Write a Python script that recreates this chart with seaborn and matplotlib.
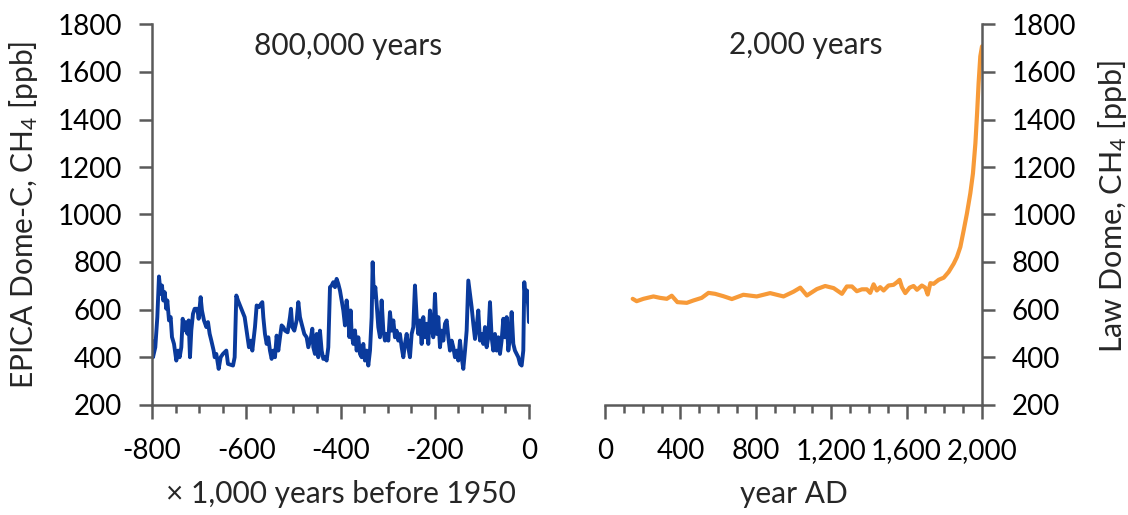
import matplotlib
matplotlib.use("Agg")
import matplotlib.pyplot as plt
from matplotlib.ticker import MultipleLocator, FuncFormatter
import seaborn as sns
import pandas as pd

# EPICA Dome C methane record (thousand years relative to 1950, ppb)
epica_kyr = [
    -799.5, -797.9, -793.0, -788.7, -785.2, -781.6, -778.8, -776.0, -773.1, -769.6,
    -767.5, -763.9, -760.4, -757.6, -753.3, -748.4, -744.8, -741.3, -737.8, -734.9,
    -732.1, -729.3, -725.0, -722.2, -719.4, -716.6, -713.0, -709.5, -703.8, -701.0,
    -696.8, -694.0, -689.7, -684.7, -681.2, -677.7, -674.1, -669.2, -667.0, -663.5,
    -658.5, -654.3, -649.4, -642.3, -638.8, -628.1, -624.6, -621.1, -617.5, -610.5,
    -603.4, -599.2, -594.2, -590.0, -587.1, -581.5, -577.9, -573.0, -568.7, -565.9,
    -563.8, -560.3, -556.7, -553.2, -549.7, -546.1, -542.6, -539.0, -535.5, -532.0,
    -528.4, -524.9, -521.4, -517.8, -512.2, -507.2, -505.1, -502.3, -498.0, -493.1,
    -489.5, -486.0, -482.5, -476.8, -471.9, -468.3, -462.7, -459.8, -457.7, -454.2,
    -450.6, -447.1, -443.6, -440.0, -436.5, -433.0, -429.4, -425.9, -422.3, -418.8,
    -415.3, -411.7, -408.2, -404.7, -401.1, -397.6, -394.0, -390.5, -387.0, -383.4,
    -381.3, -378.5, -376.3, -372.8, -369.3, -365.7, -362.2, -358.7, -355.1, -351.6,
    -348.1, -344.5, -341.0, -337.4, -333.9, -331.8, -329.0, -326.1, -323.3, -319.8,
    -316.2, -312.7, -309.1, -305.6, -302.1, -298.5, -295.0, -291.5, -287.9, -284.4,
    -280.9, -277.3, -273.8, -270.2, -266.7, -263.2, -259.6, -256.1, -252.6, -249.0,
    -245.5, -242.0, -238.4, -234.9, -231.3, -227.8, -224.3, -220.7, -217.2, -213.7,
    -210.1, -206.6, -203.1, -199.5, -196.0, -192.4, -188.9, -185.4, -181.8, -178.3,
    -174.7, -171.2, -167.7, -164.1, -160.6, -157.1, -153.5, -150.0, -146.5, -142.9,
    -139.4, -135.8, -132.3, -128.8, -125.2, -121.7, -118.2, -114.6, -111.1, -107.6,
    -104.0, -100.5, -97.0, -93.4, -89.9, -86.4, -82.8, -79.3, -75.7, -72.2,
    -68.7, -65.1, -61.6, -58.1, -54.5, -51.0, -47.4, -43.9, -40.4, -36.8,
    -33.3, -29.8, -26.2, -22.7, -19.1, -15.6, -12.1, -10.0, -7.1, -4.3,
    -1.5, -0.1,
]
epica_ch4 = [
    469, 399, 441, 568, 739, 666, 701, 638, 673, 603,
    638, 554, 568, 484, 455, 385, 427, 399, 441, 561,
    512, 547, 498, 554, 399, 512, 582, 603, 603, 561,
    652, 596, 554, 526, 547, 498, 469, 427, 399, 413,
    350, 399, 413, 427, 371, 364, 399, 659, 638, 603,
    568, 511, 441, 469, 427, 526, 617, 610, 624, 631,
    568, 497, 455, 483, 427, 392, 427, 399, 490, 427,
    483, 533, 526, 511, 504, 568, 603, 526, 511, 554,
    631, 568, 540, 497, 483, 441, 483, 519, 441, 413,
    497, 399, 511, 427, 392, 399, 385, 441, 694, 701,
    715, 694, 729, 708, 680, 638, 596, 533, 638, 568,
    484, 596, 497, 455, 512, 427, 483, 413, 399, 455,
    385, 427, 364, 427, 568, 799, 652, 694, 624, 526,
    483, 638, 511, 469, 497, 469, 589, 511, 554, 483,
    511, 469, 497, 441, 399, 455, 497, 441, 399, 497,
    526, 701, 568, 497, 554, 455, 568, 483, 540, 455,
    596, 526, 483, 666, 497, 568, 441, 511, 469, 540,
    554, 483, 427, 469, 441, 399, 427, 385, 469, 399,
    350, 427, 511, 722, 666, 610, 540, 476, 526, 596,
    469, 497, 455, 526, 441, 483, 631, 483, 427, 497,
    427, 483, 413, 469, 561, 483, 568, 427, 483, 589,
    455, 427, 413, 399, 371, 364, 427, 715, 638, 680,
    610, 547,
]

# Law Dome methane record (year AD, ppb)
law_year = [
    147, 168, 204, 257, 292, 328, 354, 384, 434, 469,
    513, 549, 584, 628, 673, 734, 805, 876, 947, 1000,
    1036, 1071, 1124, 1168, 1213, 1257, 1283, 1310, 1336, 1363,
    1389, 1407, 1425, 1442, 1460, 1478, 1504, 1531, 1549, 1563,
    1575, 1593, 1616, 1637, 1655, 1681, 1699, 1712, 1726, 1743,
    1770, 1797, 1823, 1850, 1867, 1885, 1903, 1920, 1938, 1952,
    1965, 1974, 1982, 1991, 2000,
]
law_ch4 = [
    645, 635, 645, 655, 649, 645, 658, 631, 628, 638,
    649, 670, 666, 656, 644, 662, 655, 669, 655, 675,
    692, 659, 686, 699, 690, 666, 697, 697, 677, 685,
    685, 670, 706, 680, 694, 680, 701, 704, 715, 725,
    694, 669, 692, 699, 683, 701, 692, 663, 711, 708,
    725, 734, 758, 793, 821, 863, 934, 1004, 1089, 1173,
    1300, 1427, 1553, 1666, 1708,
]

left_xticks = [-800, -600, -400, -200, 0]
right_xticks = [0, 400, 800, 1200, 1600, 2000]
y_ticks = [200, 400, 600, 800, 1000, 1200, 1400, 1600, 1800]

sns.set_style("ticks")
plt.rcParams["font.family"] = ["Lato", "DejaVu Sans"]
plt.rcParams["mathtext.fontset"] = "custom"
plt.rcParams["mathtext.rm"] = "Lato"
plt.rcParams["mathtext.it"] = "Lato:italic"
plt.rcParams["axes.unicode_minus"] = False

TICK_FS = 20
LABEL_FS = 21.5
TITLE_FS = 21.5
SPINE = "#5a5a5a"
BLUE = "#0A3A9C"
ORANGE = "#F79A38"

W, H = 1128, 515
fig = plt.figure(figsize=(W / 100, H / 100), dpi=100)
ax1 = fig.add_axes([152 / W, 1 - 404.5 / H, 377 / W, 380 / H])
ax2 = fig.add_axes([605 / W, 1 - 404.5 / H, 377 / W, 380 / H])

epica = pd.DataFrame({"kyr": epica_kyr, "ch4": epica_ch4})
law = pd.DataFrame({"year": law_year, "ch4": law_ch4})

sns.lineplot(data=epica, x="kyr", y="ch4", ax=ax1, color=BLUE, linewidth=2.8,
             sort=False, estimator=None)
sns.lineplot(data=law, x="year", y="ch4", ax=ax2, color=ORANGE, linewidth=3.0,
             sort=False, estimator=None)

for ax in (ax1, ax2):
    ax.set_ylim(200, 1800)
    ax.set_yticks(y_ticks)
    ax.set_facecolor("white")
    for s in ax.spines.values():
        s.set_color(SPINE)
        s.set_linewidth(1.8)
        s.set_zorder(3)
    ax.tick_params(axis="both", which="major", colors=SPINE, width=1.8,
                   labelcolor="black", labelsize=TICK_FS)
    ax.tick_params(axis="x", which="major", length=10, pad=14)
    ax.tick_params(axis="y", which="major", length=9.5, pad=12)
    ax.tick_params(axis="x", which="minor", length=5.5, width=1.8, colors=SPINE)

# left panel: 800 kyr ice-core record
ax1.set_xlim(-800, 0)
ax1.set_xticks(left_xticks)
ax1.xaxis.set_minor_locator(MultipleLocator(50))
ax1.spines["top"].set_visible(False)
ax1.spines["right"].set_visible(False)
ax1.set_xlabel("× 1,000 years before 1950", fontsize=LABEL_FS, labelpad=12)
ax1.set_ylabel("EPICA Dome-C, CH$_4$ [ppb]", fontsize=21.5)
ax1.yaxis.set_label_coords(-0.34, 0.5)
ax1.yaxis.label.set_verticalalignment("center")
ax1.text(0.52, 0.92, "800,000 years", transform=ax1.transAxes, ha="center",
         va="baseline", fontsize=TITLE_FS)

# right panel: last two millennia
ax2.set_xlim(0, 2000)
ax2.set_xticks(right_xticks)
ax2.xaxis.set_major_formatter(FuncFormatter(lambda v, p: f"{int(v):,}"))
ax2.xaxis.set_minor_locator(MultipleLocator(100))
ax2.spines["top"].set_visible(False)
ax2.spines["left"].set_visible(False)
ax2.yaxis.tick_right()
ax2.yaxis.set_label_position("right")
ax2.set_xlabel("year AD", fontsize=LABEL_FS, labelpad=12)
ax2.set_ylabel("Law Dome, CH$_4$ [ppb]", fontsize=22)
ax2.yaxis.set_label_coords(1.345, 0.52)
ax2.yaxis.label.set_verticalalignment("center")
ax2.text(0.532, 0.922, "2,000 years", transform=ax2.transAxes, ha="center",
         va="baseline", fontsize=TITLE_FS)

fig.savefig("out.png", dpi=100, facecolor="white")
